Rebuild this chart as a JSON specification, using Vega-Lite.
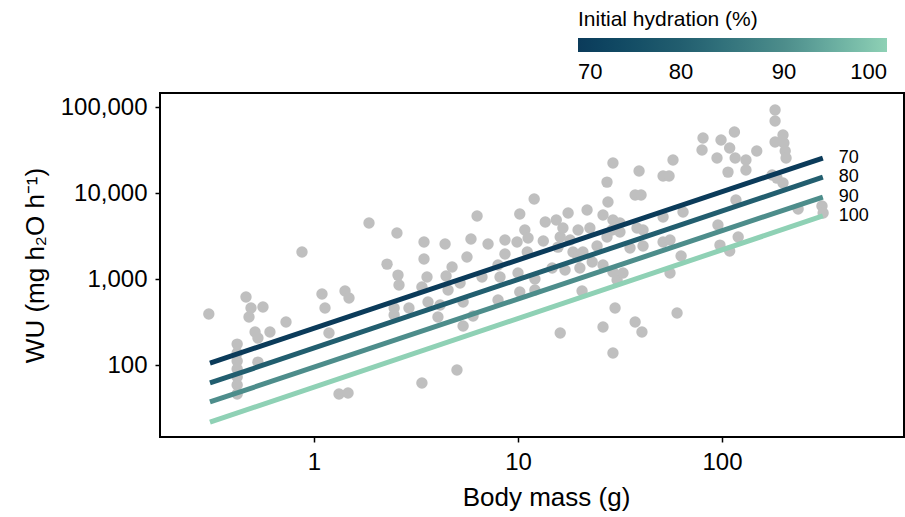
{
  "$schema": "https://vega.github.io/schema/vega-lite/v6.json",
  "autosize": "none",
  "width": 744,
  "height": 344,
  "padding": {"left": 160, "top": 93, "right": 1, "bottom": 80},
  "background": "white",
  "config": {
    "font": "Liberation Sans",
    "view": {"stroke": "black", "strokeWidth": 2},
    "axis": {"grid": false, "domain": false, "tickColor": "black", "tickWidth": 1.5, "tickSize": 5, "labelColor": "black", "titleColor": "black", "labelFont": "Liberation Sans", "titleFont": "Liberation Sans", "titleFontWeight": "normal", "labelFontSize": 24, "titleFontSize": 26}
  },
  "datasets": {
    "pts": [
      {"m":0.305,"w":392},{"m":0.42,"w":175},{"m":0.42,"w":138},{"m":0.42,"w":111},{"m":0.42,"w":89.8},{"m":0.42,"w":72.4},{"m":0.42,"w":58.5},{"m":0.42,"w":46},
      {"m":0.464,"w":618},{"m":0.491,"w":460},{"m":0.48,"w":361},{"m":0.514,"w":242},{"m":0.531,"w":206},{"m":0.562,"w":472},{"m":0.608,"w":242},{"m":0.531,"w":108},
      {"m":0.729,"w":316},{"m":0.873,"w":2060},{"m":1.094,"w":670},{"m":1.132,"w":460},{"m":1.184,"w":236},{"m":1.326,"w":46},{"m":1.468,"w":47.2},{"m":1.419,"w":725},
      {"m":1.484,"w":601},{"m":1.86,"w":4480},{"m":2.28,"w":1490},{"m":2.55,"w":3430},{"m":2.58,"w":1110},{"m":2.61,"w":851},{"m":2.47,"w":460},{"m":2.47,"w":381},
      {"m":2.92,"w":460},{"m":3.38,"w":807},{"m":3.38,"w":61.8},{"m":3.46,"w":2690},{"m":3.46,"w":1710},{"m":3.58,"w":1055},{"m":3.62,"w":541},{"m":4.05,"w":361},
      {"m":4.15,"w":499},{"m":4.39,"w":2550},{"m":4.44,"w":1083},{"m":4.54,"w":745},{"m":4.75,"w":1380},{"m":5.02,"w":87.5},{"m":5.2,"w":898},{"m":5.38,"w":541},
      {"m":5.38,"w":284},{"m":5.62,"w":1800},{"m":5.88,"w":2920},{"m":6.02,"w":371},{"m":6.3,"w":5410},{"m":6.66,"w":1055},{"m":7.13,"w":2550},{"m":7.98,"w":1455},
      {"m":7.98,"w":570},{"m":8.16,"w":1055},{"m":8.63,"w":2840},{"m":8.63,"w":1955},{"m":9.89,"w":2690},{"m":10.0,"w":1175},{"m":10.2,"w":5700},{"m":10.2,"w":706},
      {"m":10.8,"w":3720},{"m":11.2,"w":3000},{"m":11.1,"w":2060},{"m":12.0,"w":8510},{"m":12.1,"w":1000},{"m":12.1,"w":745},{"m":13.3,"w":2770},{"m":13.6,"w":4600},
      {"m":14.7,"w":1343},{"m":15.4,"w":4850},{"m":15.7,"w":2350},{"m":16.1,"w":3080},{"m":16.1,"w":236},{"m":16.6,"w":3920},{"m":17.0,"w":1274},{"m":17.6,"w":5850},
      {"m":18.6,"w":2060},{"m":18.0,"w":2840},{"m":19.7,"w":3720},{"m":19.7,"w":1800},{"m":20.1,"w":1343},{"m":20.6,"w":725},{"m":20.8,"w":2060},{"m":21.8,"w":6340},
      {"m":22.5,"w":3920},{"m":23.1,"w":1580},{"m":24.4,"w":2420},{"m":26.1,"w":5550},{"m":26.1,"w":1455},{"m":26.1,"w":277},{"m":27.3,"w":13400},{"m":27.3,"w":3080},
      {"m":27.6,"w":7850},{"m":28.9,"w":3720},{"m":29.2,"w":22300},{"m":29.2,"w":4850},{"m":29.2,"w":1205},{"m":29.2,"w":138},{"m":29.9,"w":460},{"m":30.6,"w":973},
      {"m":31.6,"w":4480},{"m":31.6,"w":3520},{"m":32.7,"w":1175},{"m":35.4,"w":2290},{"m":37.5,"w":9480},{"m":40.1,"w":9480},{"m":37.5,"w":316},{"m":38.3,"w":3920},
      {"m":39.2,"w":18000},{"m":40.5,"w":242},{"m":41.0,"w":3720},{"m":41.0,"w":2420},{"m":51.4,"w":15800},{"m":55.0,"w":15800},{"m":51.4,"w":5260},{"m":51.4,"w":2690},
      {"m":55.6,"w":2840},{"m":55.6,"w":1175},{"m":57.5,"w":24200},{"m":60.2,"w":403},{"m":63.0,"w":1850},{"m":64.4,"w":6010},{"m":79.8,"w":31600},{"m":80.7,"w":43600},
      {"m":94.5,"w":25500},{"m":95.5,"w":4250},{"m":97.7,"w":2480},{"m":98.9,"w":41300},{"m":107,"w":17500},{"m":109,"w":33400},{"m":109,"w":2120},{"m":115,"w":51200},
      {"m":116,"w":25500},{"m":117,"w":8300},{"m":120,"w":3080},{"m":131,"w":24200},{"m":131,"w":18500},{"m":148,"w":30800},{"m":176,"w":16200},{"m":182,"w":92300},
      {"m":182,"w":68700},{"m":182,"w":39200},{"m":199,"w":47200},{"m":201,"w":38100},{"m":204,"w":30800},{"m":206,"w":25500},{"m":186,"w":14900},{"m":199,"w":13100},
      {"m":236,"w":6520},{"m":309,"w":7060},{"m":313,"w":5850}
    ],
    "fits": [
      {"h":70,"m":0.309,"w":105.5},{"h":70,"m":312,"w":25500},
      {"h":80,"m":0.309,"w":61.8},{"h":80,"m":312,"w":15300},
      {"h":90,"m":0.309,"w":37.2},{"h":90,"m":312,"w":8980},
      {"h":100,"m":0.309,"w":21.7},{"h":100,"m":312,"w":5410}
    ],
    "labs": [
      {"h":70,"lab":"70","m":312,"w":25500},
      {"h":80,"lab":"80","m":312,"w":15300},
      {"h":90,"lab":"90","m":312,"w":8980},
      {"h":100,"lab":"100","m":312,"w":5410}
    ]
  },
  "encoding": {
    "x": {"field": "m", "type": "quantitative", "title": "Body mass (g)",
      "scale": {"type": "log", "domain": [0.1758, 779.9], "nice": false},
      "axis": {"values": [1, 10, 100], "format": "~s", "labelPadding": 8, "titlePadding": 10, "titleX": 386}},
    "y": {"field": "w", "type": "quantitative", "title": "WU (mg h₂O h⁻¹)",
      "scale": {"type": "log", "domain": [14.55, 145600], "nice": false},
      "axis": {"values": [100, 1000, 10000, 100000], "format": ",d", "labelPadding": 8, "titlePadding": 12}}
  },
  "layer": [
    {"data": {"name": "pts"}, "mark": {"type": "circle", "color": "#bfbfbf", "opacity": 1, "size": 130}},
    {"data": {"name": "fits"}, "mark": {"type": "line", "strokeWidth": 5, "strokeCap": "butt"},
      "encoding": {
        "detail": {"field": "h", "type": "nominal"},
        "color": {"field": "h", "type": "quantitative",
          "scale": {"domain": [70, 80, 90, 100], "range": ["#0b3b5a", "#225e6f", "#4d8d8b", "#8fd1b5"]},
          "legend": {"orient": "none", "direction": "horizontal", "legendX": 418, "legendY": -84,
            "title": "Initial hydration (%)", "titleFontSize": 21, "titleFontWeight": "normal", "titleColor": "black", "titlePadding": 8,
            "gradientLength": 309, "gradientThickness": 14, "gradientStrokeWidth": 0,
            "values": [70, 80, 90, 100], "labelAlign": "center", "labelFontSize": 22, "labelColor": "black", "labelOffset": 10, "labelOverlap": false}}
      }},
    {"data": {"name": "labs"}, "mark": {"type": "text", "align": "left", "baseline": "middle", "dx": 16, "fontSize": 18, "color": "black"},
      "encoding": {"text": {"field": "lab"}}}
  ]
}
